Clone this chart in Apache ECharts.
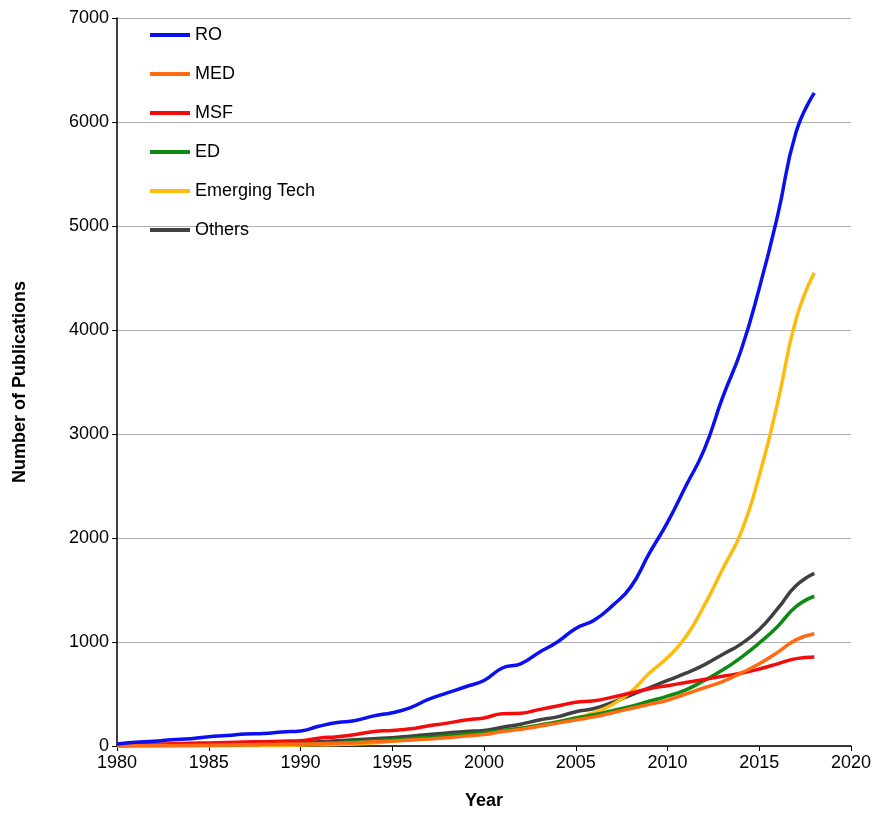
<!DOCTYPE html>
<html lang="en">
<head>
<meta charset="UTF-8">
<title>Publications</title>
<script src="https://cdn.jsdelivr.net/npm/echarts@6/dist/echarts.min.js"></script>
</head>
<body style="margin:0">
<div id="main" style="width:881px; height:820px;"></div>
<script>
var years = [];
for (var y = 1980; y <= 2018; y++) years.push(y);

var ro = [20,35,45,60,70,90,100,115,120,135,145,190,225,245,290,320,370,450,510,570,630,750,790,900,1000,1130,1210,1350,1530,1850,2150,2500,2850,3350,3800,4400,5100,5900,6280];
var med = [2,3,4,5,6,8,10,12,14,16,18,22,26,32,40,48,58,68,80,95,110,140,160,190,220,250,280,320,360,400,440,500,560,620,700,790,900,1020,1080];
var msf = [10,14,18,22,26,30,34,38,42,46,50,75,90,110,140,150,165,195,220,250,270,310,315,350,385,420,435,470,510,550,580,610,640,670,700,740,790,840,855];
var ed = [3,4,5,6,8,10,12,14,16,18,20,25,32,40,50,60,72,85,100,115,130,150,170,200,230,270,300,340,380,430,480,540,630,730,850,990,1150,1340,1440];
var emerging = [0,0,0,0,0,0,1,2,4,6,10,12,15,20,30,45,60,75,90,105,120,145,170,200,230,270,320,400,520,700,850,1050,1350,1700,2050,2600,3300,4100,4550];
var others = [5,6,8,10,12,15,18,21,24,27,30,40,50,60,70,80,95,110,125,140,150,180,210,250,280,330,360,420,490,560,630,700,780,880,980,1120,1320,1540,1660];

var names = ['RO', 'MED', 'MSF', 'ED', 'Emerging Tech', 'Others'];
var colors = ['#0a10f0', '#ff6a13', '#f20c0c', '#0d8a12', '#ffbb0d', '#404040'];
var values = [ro, med, msf, ed, emerging, others];

var chart = echarts.init(document.getElementById('main'));
var font = '"Liberation Sans", Arial, sans-serif';
var plain = function (v) { return String(v); };

chart.setOption({
    animation: false,
    color: colors,
    textStyle: { fontFamily: font },
    legend: {
        orient: 'vertical',
        left: 145, top: 21,
        itemGap: 21,
        itemWidth: 40, itemHeight: 4,
        icon: 'rect',
        textStyle: { fontSize: 18, color: '#000', fontFamily: font },
        data: names
    },
    grid: { left: 117, right: 30, top: 18, bottom: 74 },
    xAxis: {
        type: 'value', min: 1980, max: 2020, interval: 5,
        name: 'Year', nameLocation: 'middle', nameGap: 46,
        nameTextStyle: { fontSize: 18, fontWeight: 'bold', color: '#000' },
        axisLine: { lineStyle: { color: '#000', width: 1.5 } },
        axisTick: { show: true, lineStyle: { color: '#000' } },
        axisLabel: { fontSize: 18, color: '#000', formatter: plain },
        splitLine: { show: false }
    },
    yAxis: {
        type: 'value', min: 0, max: 7000, interval: 1000,
        name: 'Number of Publications', nameLocation: 'middle', nameGap: 88,
        nameTextStyle: { fontSize: 18, fontWeight: 'bold', color: '#000' },
        axisLine: { show: true, lineStyle: { color: '#000', width: 1.5 } },
        axisTick: { show: true, lineStyle: { color: '#000' } },
        axisLabel: { fontSize: 18, color: '#000', formatter: plain },
        splitLine: { lineStyle: { color: '#b0b0b0' } }
    },
    series: names.map(function (n, i) {
        return {
            name: n, type: 'line', smooth: true, showSymbol: false,
            lineStyle: { width: 3.5, color: colors[i] },
            z: 10 - i,
            data: years.map(function (yr, j) { return [yr, values[i][j]]; })
        };
    })
});
</script>
</body>
</html>
